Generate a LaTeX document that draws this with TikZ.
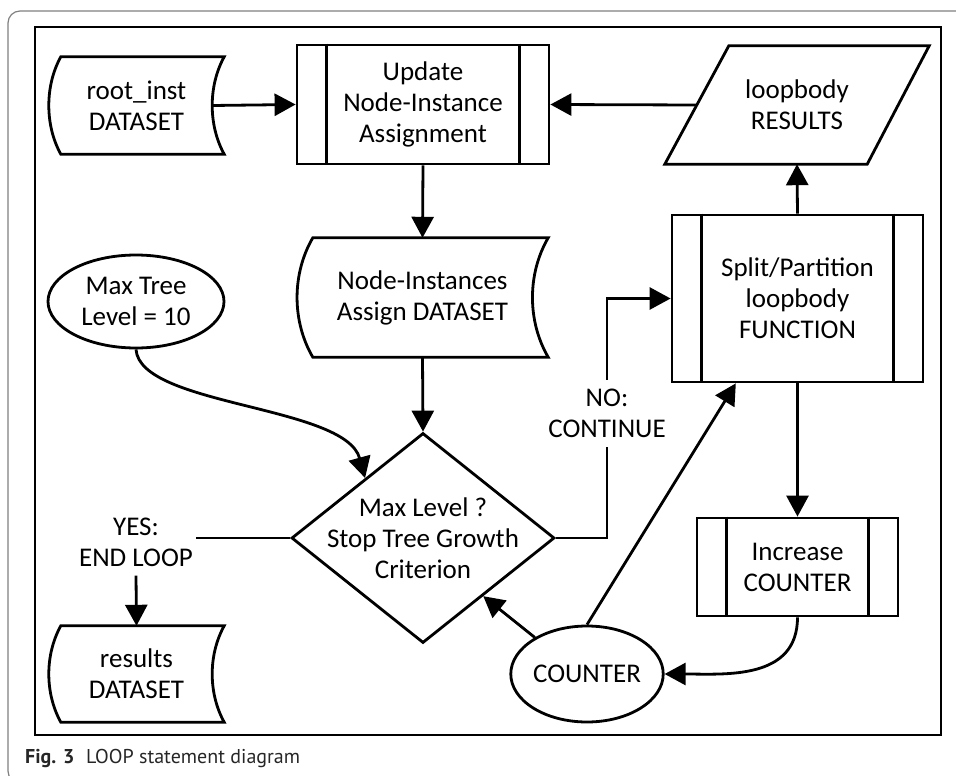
\documentclass[tikz,border=0pt]{standalone}
\usepackage{fontspec}
\setmainfont{Carlito}
\newfontfamily\capfont{PT Sans}
\usetikzlibrary{arrows.meta,calc,shapes.geometric}

\begin{document}
\begin{tikzpicture}[x=1pt,y=-1pt,
  every node/.style={font=\fontsize{27}{31}\selectfont, align=center, inner sep=0pt},
  lw/.style={line width=2.8pt},
  shp/.style={lw, line join=miter},
  proc/.style={draw, lw},
  oval/.style={ellipse, draw, lw},
  con/.style={lw, -{Triangle[length=21pt,width=22pt]}},
  lbl/.style={fill=white, inner xsep=4pt, inner ysep=9pt}
]
\useasboundingbox (0,0) rectangle (956,776);
\begin{scope}
  \clip (0,0) rectangle (956,776);
  % page frame (grey, rounded)
  \draw[black!50, line width=1.2pt, rounded corners=12pt]
    (975,11) -- (8,11) -- (8,783) -- (975,783);
\end{scope}
% figure frame
\draw[lw] (35,27) rectangle (941,735);

% ---- nodes ----
\node[minimum width=175pt, minimum height=97pt] (root) at (136.5,105.5) {root\_inst\\DATASET};
\node[proc, minimum width=252pt, minimum height=119pt] (upd) at (423,104.5) {Update\\Node-Instance\\Assignment};
\node[minimum width=264pt, minimum height=118pt] (res) at (797,105) {loopbody\\RESULTS};
\node[minimum width=251pt, minimum height=119pt] (nia) at (422.5,297.5) {Node-Instances\\Assign DATASET};
\node[oval, minimum width=176pt, minimum height=93pt] (maxt) at (136,301.5) {Max Tree\\Level = 10};
\node[proc, minimum width=251pt, minimum height=167pt] (split) at (797.5,298.5) {Split/Partition\\loopbody\\FUNCTION};
\node[diamond, draw, lw, minimum width=263pt, minimum height=210pt,
      label={[align=center]center:{Max Level ?\\Stop Tree Growth\\Criterion}}] (dia) at (423,538) {};
\node[inner xsep=3pt, inner ysep=9pt] (yes) at (136,542) {YES:\\END LOOP};
\node[minimum width=175pt, minimum height=96pt] (resd) at (136.5,674) {results\\DATASET};
\node[proc, minimum width=201pt, minimum height=98pt] (inc) at (797.5,567) {Increase\\COUNTER};
\node[oval, minimum width=148pt, minimum height=96pt] (cnt) at (587,674) {COUNTER};
\coordinate (nobend) at (607,298.5);

% stored-data outlines: both sides bow to the left
\foreach \n/\b/\k/\a in {root/12/16/29, nia/16/21/36, resd/12/16/29}{
  \draw[shp] ($(\n.north west)+(\b,0)$) -- (\n.north east)
    .. controls +(-\k,\a) and +(-\k,-\a) .. (\n.south east)
    -- ($(\n.south west)+(\b,0)$)
    .. controls +(-\k,-\a) and +(-\k,\a) .. ($(\n.north west)+(\b,0)$) -- cycle;
}
% data (parallelogram) outline
\draw[shp] ($(res.north west)+(64,0)$) -- (res.north east)
  -- ($(res.south east)+(-62,0)$) -- (res.south west) -- cycle;
% predefined-process side bars
\foreach \n in {upd,split,inc}{
  \draw[lw] ($(\n.north west)+(31,0)$) -- ($(\n.south west)+(31,0)$);
  \draw[lw] ($(\n.north east)+(-31,0)$) -- ($(\n.south east)+(-31,0)$);
}

% ---- connectors ----
\draw[con] ($(root.east)+(-12,0)$) -- (upd.west);
\draw[con] ($(res.west)+(32,0)$) -- (upd.east);
\draw[con] (upd.south) -- (nia.north);
\draw[con] (split.north) -- (res.south);
\draw[con] (nia.south) -- (dia.north);
\draw[con] (maxt.south) .. controls +(4,57) and +(-20,-73) .. (dia.134);
\draw[con] (dia.east) -| node[pos=0.76, lbl] (no) {NO:\\CONTINUE} (nobend) -- (split.west);
\draw[lw] (dia.west) -- (yes.east |- dia.west);
\draw[con] (yes.south) -- (resd.north);
\draw[con] (split.south) -- (inc.north);
\draw[con] (inc.south) .. controls +(0,63) and +(60,0) .. (cnt.east);
\draw[con] (cnt.145) -- (dia.316);
\draw[con] (cnt.north) -- (split.234);

% ---- caption ----
\node[anchor=base west, font=\capfont\bfseries\fontsize{20}{24}\selectfont, text=black!85] (fig) at (25,763) {Fig. 3};
\node[anchor=base west, font=\capfont\fontsize{20}{24}\selectfont, text=black!85] (cap) at (86,763) {LOOP statement diagram};
\end{tikzpicture}
\end{document}
